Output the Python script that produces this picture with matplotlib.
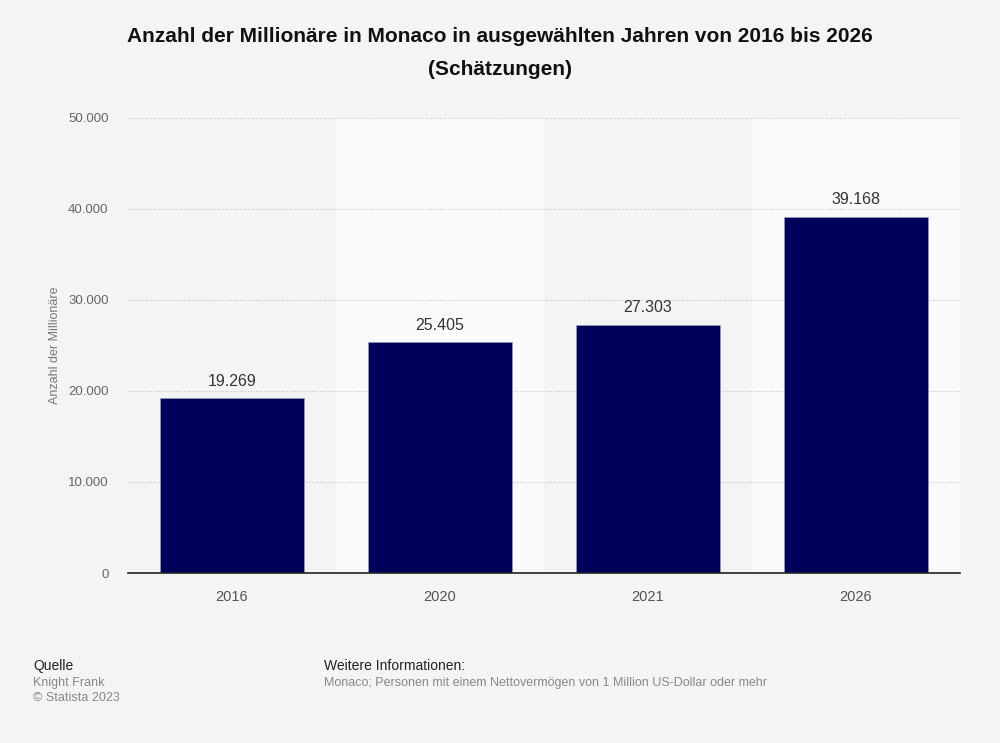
import matplotlib.pyplot as plt
from matplotlib.ticker import FuncFormatter

years = ['2016', '2020', '2021', '2026']
millionaires = [19269, 25405, 27303, 39168]
y_ticks = [0, 10000, 20000, 30000, 40000, 50000]


def de_format(v, pos=None):
    return f'{int(v):,}'.replace(',', '.')


plt.rcParams['font.family'] = ['Liberation Sans', 'DejaVu Sans']

fig = plt.figure(figsize=(10, 7.43), dpi=100, facecolor='#f4f4f4')
ax = fig.add_axes([0.128, 0.2288, 0.832, 0.6124])
ax.set_facecolor('#f4f4f4')

x = list(range(len(years)))
# alternating light bands behind every second category
for i in x:
    if i % 2 == 1:
        ax.axvspan(i - 0.5, i + 0.5, color='#fafafa', zorder=0, lw=0)

ax.yaxis.grid(True, linestyle=(0, (1, 1.5)), color='#c8c8c8', lw=0.8, zorder=1)
ax.set_axisbelow(True)

bars = ax.bar(x, millionaires, width=0.69, color='#00005a',
              edgecolor='#9a9ab8', linewidth=0.5, zorder=2)
for xi, v in zip(x, millionaires):
    ax.text(xi, v + 1000, de_format(v), ha='center', va='bottom',
            fontsize=11.5, color='#333333', zorder=3)

ax.set_xlim(-0.5, len(years) - 0.5)
ax.set_ylim(0, 50000)
ax.set_xticks(x)
ax.set_xticklabels(years, fontsize=10.5, color='#555555')
ax.set_yticks(y_ticks)
ax.yaxis.set_major_formatter(FuncFormatter(de_format))
ax.tick_params(axis='y', length=0, labelsize=9.5, labelcolor='#666666', pad=14)
ax.tick_params(axis='x', length=0, pad=12)
for s in ['top', 'right', 'left']:
    ax.spines[s].set_visible(False)
ax.spines['bottom'].set_color('#222222')
ax.spines['bottom'].set_linewidth(1.2)
ax.set_ylabel('Anzahl der Millionäre', fontsize=9, color='#777777', labelpad=5)

fig.text(0.5, 0.951, 'Anzahl der Millionäre in Monaco in ausgewählten Jahren von 2016 bis 2026',
         ha='center', va='center', fontsize=15, fontweight='bold', color='#111111')
fig.text(0.5, 0.907, '(Schätzungen)', ha='center', va='center',
         fontsize=15, fontweight='bold', color='#111111')

fig.text(0.033, 0.104, 'Quelle', fontsize=10, color='#222222', va='center')
fig.text(0.033, 0.081, 'Knight Frank', fontsize=9, color='#888888', va='center')
fig.text(0.033, 0.060, '© Statista 2023', fontsize=9, color='#888888', va='center')
fig.text(0.324, 0.104, 'Weitere Informationen:', fontsize=10, color='#222222', va='center')
fig.text(0.324, 0.081, 'Monaco; Personen mit einem Nettovermögen von 1 Million US-Dollar oder mehr',
         fontsize=9, color='#888888', va='center')

fig.savefig('out.png', dpi=100, facecolor=fig.get_facecolor())
